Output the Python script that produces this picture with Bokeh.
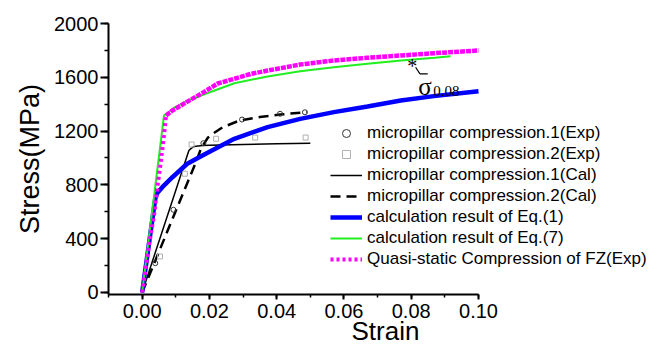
from bokeh.plotting import figure
from bokeh.models import (SingleIntervalTicker, PrintfTickFormatter, Legend, LegendItem,
                          Range1d)
from bokeh.core.properties import value
from bokeh.embed import file_html
from bokeh.resources import INLINE

# ---------------- data ----------------
exp1_strain = [0.0039, 0.0093, 0.0182, 0.0297, 0.041, 0.0484]
exp1_stress = [218, 615, 1110, 1286, 1329, 1340]

exp2_strain = [0.0053, 0.0127, 0.0147, 0.022, 0.0336, 0.0486]
exp2_stress = [268, 883, 1100, 1143, 1152, 1152]

cal1_strain = [0, 0.0139, 0.0145, 0.0152, 0.016, 0.018, 0.02, 0.03, 0.04, 0.05]
cal1_stress = [0, 1056, 1070, 1082, 1088, 1093, 1095, 1100, 1105, 1110]

cal2_strain = [0, 0.016, 0.0175, 0.0195, 0.021, 0.024, 0.029, 0.035, 0.041, 0.049]
cal2_stress = [0, 970, 1070, 1150, 1180, 1229, 1279, 1305, 1323, 1341]

eq1_strain = [0, 0.0039, 0.0045, 0.006, 0.009, 0.0134, 0.0189, 0.0274, 0.0373, 0.047,
              0.057, 0.067, 0.0769, 0.0867, 0.1]
eq1_stress = [0, 697, 740, 783, 857, 957, 1031, 1143, 1229, 1291,
              1341, 1383, 1428, 1460, 1497]

eq7_strain = [0, 0.0065, 0.01, 0.014, 0.0175, 0.0274, 0.0373, 0.047, 0.057, 0.067,
              0.077, 0.087, 0.0917]
eq7_stress = [0, 1316, 1380, 1430, 1465, 1556, 1606, 1645, 1675, 1700,
              1725, 1745, 1757]

fz_strain = [0, 0.002, 0.0036, 0.0045, 0.0055, 0.0065, 0.0071, 0.009, 0.014, 0.0175,
             0.0225, 0.0274, 0.0323, 0.0373, 0.047, 0.057, 0.067, 0.0769, 0.0867, 0.1]
fz_stress = [0, 350, 585, 780, 960, 1170, 1316, 1353, 1427, 1477,
             1554, 1589, 1625, 1650, 1695, 1725, 1745, 1762, 1779, 1799]
fz_kink = 6  # index where the elastic part ends

sigma_strain = 0.08
sigma_stress = 1712

x_ticks_interval = 0.02
y_ticks_interval = 400
x_lo, x_axis_hi = -0.01, 0.10
y_lo, y_hi = -15, 2000

legend_labels = [
    "micropillar compression.1(Exp)",
    "micropillar compression.2(Exp)",
    "micropillar compression.1(Cal)",
    "micropillar compression.2(Cal)",
    "calculation result of Eq.(1)",
    "calculation result of Eq.(7)",
    "Quasi-static Compression of FZ(Exp)",
]

# ---------------- figure ----------------
FONT = "Liberation Sans"
SERIF = "Liberation Serif"
W, H = 662, 349
LEFT, TOP, BOTTOM = 108, 23, 55
AXIS_W = 370                        # pixel length of the drawn x axis
FRAME_W = W - LEFT                  # frame runs to the right edge (room for legend)
FRAME_H = H - TOP - BOTTOM
x_hi = x_lo + (x_axis_hi - x_lo) * FRAME_W / AXIS_W

p = figure(width=W, height=H, output_backend="svg", toolbar_location=None,
           x_range=Range1d(x_lo, x_hi), y_range=Range1d(y_lo, y_hi),
           min_border_left=LEFT, min_border_right=0, min_border_top=TOP,
           min_border_bottom=BOTTOM)
p.outline_line_color = None
p.xgrid.visible = False
p.ygrid.visible = False
p.background_fill_color = "white"
p.border_fill_color = "white"

xa = p.xaxis[0]
ya = p.yaxis[0]
xa.bounds = (x_lo, x_axis_hi)
xa.ticker = SingleIntervalTicker(interval=x_ticks_interval, num_minor_ticks=2)
ya.ticker = SingleIntervalTicker(interval=y_ticks_interval, num_minor_ticks=2)
xa.formatter = PrintfTickFormatter(format="%.2f")
ya.formatter = PrintfTickFormatter(format="%d")
for ax in (xa, ya):
    ax.axis_line_width = 2
    ax.axis_line_color = "black"
    ax.major_tick_line_width = 2
    ax.minor_tick_line_width = 1.5
    ax.major_tick_in = 0
    ax.minor_tick_in = 0
    ax.major_label_text_font = FONT
    ax.major_label_text_font_size = "20px"
    ax.major_label_text_color = "black"
    ax.axis_label_text_font = FONT
    ax.axis_label_text_font_style = "normal"
    ax.axis_label_text_color = "black"
xa.major_tick_out = 5
xa.minor_tick_out = 3
xa.major_label_standoff = 4
xa.axis_label = "Strain"
xa.axis_label_text_font_size = "26px"
xa.axis_label_standoff = -5
ya.major_tick_out = 8
ya.minor_tick_out = 4
ya.major_label_standoff = 2
ya.axis_label = "Stress(MPa)"
ya.axis_label_text_font_size = "27px"
ya.axis_label_standoff = 6

# ---------------- series ----------------
r_cal1 = p.line(cal1_strain, cal1_stress, line_color="black", line_width=1.5)
r_cal2 = p.line(cal2_strain, cal2_stress, line_color="black", line_width=2.5,
                line_dash="10 6")
r_exp1 = p.scatter(exp1_strain, exp1_stress, marker="circle", size=5,
                   fill_color=None, line_color="#333333", line_width=1)
r_exp2 = p.scatter(exp2_strain, exp2_stress, marker="square", size=5,
                   fill_color=None, line_color="#b0b0b0", line_width=1)
r_eq1 = p.line(eq1_strain, eq1_stress, line_color="#0000FF", line_width=4.5)
r_eq7 = p.line(eq7_strain, eq7_stress, line_color="#22EE22", line_width=2)
r_fz1 = p.line(fz_strain[:fz_kink + 1], fz_stress[:fz_kink + 1], line_color="#FF00FF",
               line_width=4, line_dash="3 3", line_cap="butt")
r_fz2 = p.line(fz_strain[fz_kink:], fz_stress[fz_kink:], line_color="#FF00FF",
               line_width=4.5, line_dash="5 1", line_cap="butt")

# ---------------- sigma annotation ----------------
def px_dx(d):
    return d * (x_hi - x_lo) / FRAME_W

def px_dy(d):
    return -d * (y_hi - y_lo) / FRAME_H

p.text(x=[sigma_strain], y=[sigma_stress], text=["*"], text_font=value(SERIF),
       text_font_size="20px", text_align="center", text_baseline="middle",
       x_offset=1, y_offset=4, text_color="black")
p.segment(x0=[sigma_strain + px_dx(4.4), sigma_strain + px_dx(8.7)],
          y0=[sigma_stress + px_dy(5), sigma_stress + px_dy(11.6)],
          x1=[sigma_strain + px_dx(8.7), sigma_strain + px_dx(16.5)],
          y1=[sigma_stress + px_dy(11.6), sigma_stress + px_dy(11.6)],
          line_color="black", line_width=1.2)
p.text(x=[sigma_strain], y=[sigma_stress], text=["σ"], text_font=value(SERIF),
       text_font_size="25px", text_align="left", text_baseline="alphabetic",
       x_offset=7, y_offset=24, text_color="black")
p.text(x=[sigma_strain], y=[sigma_stress], text=["%.2f" % sigma_strain],
       text_font=value(SERIF), text_font_size="15px", text_align="left",
       text_baseline="alphabetic", x_offset=22, y_offset=29, text_color="black")

# ---------------- legend ----------------
legend = Legend(items=[
    LegendItem(label=legend_labels[0], renderers=[r_exp1]),
    LegendItem(label=legend_labels[1], renderers=[r_exp2]),
    LegendItem(label=legend_labels[2], renderers=[r_cal1]),
    LegendItem(label=legend_labels[3], renderers=[r_cal2]),
    LegendItem(label=legend_labels[4], renderers=[r_eq1]),
    LegendItem(label=legend_labels[5], renderers=[r_eq7]),
    LegendItem(label=legend_labels[6], renderers=[r_fz1]),
], location=(222, 25), orientation="vertical")
legend.background_fill_alpha = 0
legend.border_line_color = None
legend.padding = 0
legend.margin = 0
legend.spacing = 1
legend.glyph_width = 32
legend.glyph_height = 20
legend.label_height = 20
legend.label_standoff = 5
legend.label_text_font = FONT
legend.label_text_font_size = "17px"
legend.label_text_color = "black"
legend.label_text_baseline = "middle"
p.add_layout(legend, "center")

open("out.html", "w").write(file_html(p, INLINE))
